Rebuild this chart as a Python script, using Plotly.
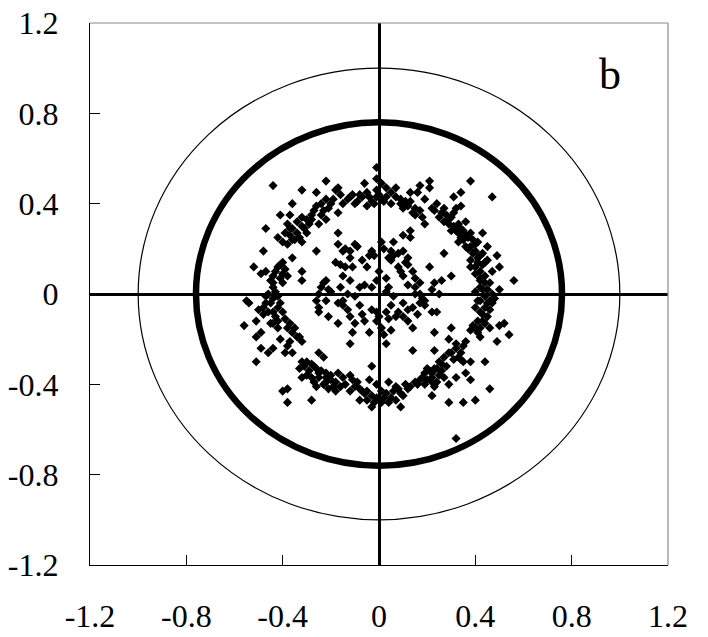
import plotly.graph_objects as go

# Scattered points
cloud_x = [
    -0.44, -0.32, -0.26, -0.22, -0.36, -0.41, -0.37, -0.32, -0.26, -0.22, -0.21, -0.24, -0.28,
    -0.47, -0.42, -0.38, -0.36, -0.32, -0.30, -0.25, -0.37, -0.40, -0.38, -0.35, -0.32, -0.22,
    -0.48, -0.26, -0.36, -0.40, -0.42, -0.52, -0.49, -0.47, -0.44, -0.40, -0.32, -0.32, -0.44,
    -0.40, -0.44, -0.22, -0.24, -0.21, -0.47, -0.44, -0.42, -0.55, -0.26, -0.22,
    -0.01, -0.01, 0.01, -0.19, -0.17, -0.13, -0.11, -0.09, -0.07, -0.06, -0.05, -0.03, -0.01,
    -0.01, 0.01, 0.03, 0.03, 0.07, 0.07, 0.09, 0.11, 0.12, 0.14, 0.15, 0.16, 0.17, 0.19, 0.19,
    -0.17, -0.05, -0.17, 0.06, 0.13, -0.17, -0.15, -0.12, -0.09, -0.03, 0.01, -0.02, 0.05, 0.06,
    0.10, -0.07, -0.11, -0.14, -0.05, -0.16, -0.18, 0.05, 0.11, 0.12, 0.09, 0.10, 0.15, 0.03,
    -0.01, -0.03, -0.08, -0.16, -0.13, -0.10, 0.06, 0.15, 0.17, 0.19, -0.15, 0.03,
    0.21, 0.21, 0.38, 0.47, 0.31, 0.34, 0.24, 0.22, 0.27, 0.32, 0.34, 0.28, 0.25, 0.30, 0.29,
    0.33, 0.36, 0.32, 0.34, 0.38, 0.34, 0.37, 0.43, 0.41, 0.33, 0.45, 0.37, 0.40, 0.42, 0.49,
    0.27, 0.38, 0.44, 0.41, 0.50, 0.21, 0.38, 0.40, 0.30, 0.42, 0.44, 0.56, 0.23, 0.26, 0.42,
    0.45, 0.40, 0.50, 0.25, 0.22, 0.46, 0.41,
    -0.54, -0.50, -0.47, -0.45, -0.44, -0.42, -0.40, -0.51, -0.48, -0.44, -0.42, -0.56, -0.49,
    -0.51, -0.38, -0.36, -0.33, -0.41, -0.49, -0.46, -0.44, -0.38, -0.36, -0.39, -0.25, -0.25,
    -0.21, -0.51, -0.25, -0.23, -0.32, -0.31, -0.29, -0.27, -0.25, -0.32, -0.28, -0.25, -0.22,
    -0.20, -0.22, -0.21, -0.26, -0.38, -0.40, -0.28, -0.38,
    -0.17, -0.13, -0.08, -0.03, -0.01, 0.03, 0.05, 0.10, 0.12, 0.17, 0.19, -0.17, -0.10, -0.11,
    -0.06, -0.04, -0.01, 0.01, 0.02, 0.05, 0.07, 0.12, 0.14, 0.03, -0.12, 0.14, -0.03, -0.17,
    -0.15, -0.11, -0.16, -0.18, -0.12, -0.04, -0.05, -0.07, -0.01, 0.01, 0.04, 0.02, 0.05, 0.08,
    0.10, 0.12, 0.15, 0.17, 0.19, -0.08, -0.02, 0.01, 0.09, -0.03, 0.07,
    0.22, 0.24, 0.40, 0.42, 0.45, 0.47, 0.43, 0.40, 0.41, 0.38, 0.46, 0.50, 0.52, 0.54, 0.49,
    0.42, 0.36, 0.35, 0.30, 0.23, 0.23, 0.32, 0.29, 0.34, 0.33, 0.38, 0.44, 0.26, 0.24, 0.22,
    0.25, 0.32, 0.36, 0.38, 0.22, 0.29, 0.23, 0.46, 0.22, 0.29, 0.35, 0.40, 0.32,
    # denser parts of the bands
    -0.39, -0.37, -0.34, -0.33, -0.36, -0.31, -0.29, -0.34, -0.28, -0.30, -0.27, -0.24, -0.23, -0.20,
    -0.43, -0.41, -0.39, -0.45, -0.41, -0.38, -0.43, -0.46,
    -0.48, -0.46, -0.43, -0.41, -0.39, -0.37, -0.35, -0.42, -0.45, -0.34, -0.32, -0.37,
    -0.30, -0.28, -0.26, -0.24, -0.22, -0.30, -0.27, -0.23, -0.19, -0.20, -0.18, -0.33,
    -0.14, -0.10, -0.08, -0.06, -0.03, -0.01, 0.03, 0.06, 0.07, 0.09, 0.11, 0.13, 0.16, 0.18,
    0.20, 0.04, -0.05, -0.12, -0.09,
    -0.15, -0.12, -0.07, 0.00, 0.04, 0.08, 0.10, 0.14, 0.16, 0.18,
    -0.16, -0.15, -0.12, -0.10, -0.08, -0.04, -0.02, 0.00, 0.02, 0.05, 0.05, 0.09, 0.13, 0.10,
    0.15, 0.17, 0.18, -0.18, 0.13,
    -0.14, -0.10, 0.02, 0.04, 0.08, 0.12, 0.08, -0.12, 0.14, 0.17, 0.15, 0.12, -0.12, -0.15,
    -0.06, 0.04, 0.00, -0.04, 0.10, 0.13,
    0.27, 0.29, 0.31, 0.30, 0.33, 0.35, 0.35, 0.36, 0.39, 0.38, 0.40, 0.39, 0.41, 0.43, 0.40,
    0.42, 0.43, 0.42, 0.44, 0.43, 0.46, 0.44, 0.47, 0.31, 0.26, 0.23, 0.36, 0.45, 0.47,
    0.42, 0.44, 0.43, 0.45, 0.41, 0.44, 0.42, 0.39, 0.46, 0.48,
    0.25, 0.27, 0.23, 0.26, 0.28, 0.22, 0.24, 0.27, 0.30, 0.31, 0.34, 0.35, 0.32, 0.29, 0.20,
    0.21, 0.19,
    -0.23, -0.20, -0.25,
]
cloud_y = [
    0.48, 0.46, 0.45, 0.50, 0.40, 0.35, 0.35, 0.34, 0.39, 0.42, 0.38, 0.35, 0.33,
    0.29, 0.25, 0.31, 0.29, 0.30, 0.27, 0.31, 0.26, 0.23, 0.22, 0.24, 0.23, 0.33,
    0.19, 0.19, 0.16, 0.14, 0.12, 0.12, 0.09, 0.10, 0.08, 0.09, 0.10, 0.06, 0.05,
    0.05, 0.03, 0.06, 0.03, 0.02, -0.01, -0.02, -0.01, -0.03, -0.03, -0.03,
    0.56, 0.51, 0.49, 0.42, 0.47, 0.42, 0.44, 0.41, 0.43, 0.49, 0.45, 0.41, 0.43,
    0.46, 0.42, 0.47, 0.43, 0.47, 0.43, 0.40, 0.41, 0.39, 0.36, 0.35, 0.45, 0.48, 0.42, 0.31,
    0.36, 0.39, 0.27, 0.23, 0.25, 0.22, 0.19, 0.19, 0.21, 0.19, 0.23, 0.17, 0.19, 0.17,
    0.19, 0.15, 0.12, 0.12, 0.12, 0.13, 0.14, 0.15, 0.14, 0.13, 0.10, 0.08, 0.07, 0.07,
    0.06, 0.03, 0.03, 0.03, 0.00, -0.01, -0.01, 0.03, 0.00, -0.03, -0.03, 0.01,
    0.50, 0.47, 0.50, 0.43, 0.43, 0.45, 0.40, 0.38, 0.38, 0.38, 0.39, 0.35, 0.34, 0.34, 0.31,
    0.31, 0.32, 0.28, 0.29, 0.27, 0.25, 0.25, 0.27, 0.23, 0.23, 0.21, 0.20, 0.19, 0.17, 0.17,
    0.18, 0.15, 0.14, 0.14, 0.12, 0.12, 0.12, 0.09, 0.08, 0.07, 0.05, 0.06, 0.05, 0.06, 0.03,
    0.02, 0.01, 0.02, 0.00, 0.02, -0.03, -0.03,
    -0.04, -0.07, -0.04, -0.04, -0.08, -0.06, -0.08, -0.12, -0.09, -0.13, -0.12, -0.14, -0.17,
    -0.19, -0.15, -0.17, -0.19, -0.20, -0.24, -0.26, -0.24, -0.23, -0.26, -0.26, -0.06, -0.08,
    -0.10, -0.30, -0.26, -0.28, -0.30, -0.32, -0.34, -0.32, -0.35, -0.37, -0.37, -0.37, -0.35,
    -0.38, -0.39, -0.42, -0.41, -0.42, -0.43, -0.47, -0.48,
    -0.04, -0.07, -0.05, -0.07, -0.08, -0.08, -0.05, -0.04, -0.07, -0.04, -0.05, -0.13, -0.13, -0.17,
    -0.12, -0.17, -0.12, -0.15, -0.18, -0.16, -0.10, -0.12, -0.15, -0.22, -0.22, -0.25, -0.32, -0.35,
    -0.37, -0.38, -0.41, -0.43, -0.43, -0.38, -0.43, -0.43, -0.40, -0.43, -0.39, -0.46, -0.46, -0.42,
    -0.45, -0.42, -0.39, -0.38, -0.35, -0.47, -0.48, -0.48, -0.50, -0.50, -0.47,
    -0.08, -0.08, -0.06, -0.08, -0.04, -0.04, -0.12, -0.15, -0.17, -0.16, -0.15, -0.14, -0.13, -0.18, -0.21,
    -0.19, -0.21, -0.23, -0.15, -0.17, -0.25, -0.24, -0.26, -0.26, -0.28, -0.30, -0.30, -0.31, -0.33, -0.35,
    -0.36, -0.37, -0.35, -0.38, -0.39, -0.40, -0.41, -0.42, -0.45, -0.48, -0.48, -0.47, -0.64,
    # denser parts of the bands
    0.27, 0.29, 0.27, 0.25, 0.24, 0.29, 0.31, 0.32, 0.35, 0.33, 0.37, 0.40, 0.37, 0.40,
    0.10, 0.07, 0.11, 0.06, 0.13, 0.08, 0.01, 0.00,
    -0.06, -0.08, -0.10, -0.04, -0.11, -0.13, -0.15, -0.15, -0.13, -0.19, -0.21, -0.21,
    -0.30, -0.31, -0.33, -0.34, -0.37, -0.36, -0.39, -0.40, -0.41, -0.36, -0.39, -0.33,
    -0.40, -0.41, -0.42, -0.44, -0.45, -0.46, -0.44, -0.43, -0.41, -0.44, -0.40, -0.41, -0.40, -0.37,
    -0.33, -0.48, -0.47, -0.36, -0.39,
    -0.05, -0.10, -0.09, -0.10, -0.11, -0.08, -0.10, -0.06, -0.09, -0.02,
    0.44, 0.40, 0.43, 0.40, 0.44, 0.43, 0.40, 0.44, 0.41, 0.40, 0.45, 0.42, 0.41, 0.38,
    0.38, 0.37, 0.34, 0.46, 0.45,
    0.20, 0.22, 0.20, 0.16, 0.18, 0.16, 0.12, 0.16, 0.10, 0.05, 0.00, 0.04, 0.06, 0.08,
    0.04, 0.03, 0.10, 0.17, 0.26, 0.28,
    0.32, 0.33, 0.30, 0.28, 0.27, 0.28, 0.24, 0.26, 0.24, 0.21, 0.22, 0.18, 0.16, 0.18, 0.12,
    0.10, 0.13, 0.06, 0.08, 0.02, 0.05, -0.01, 0.00, 0.36, 0.36, 0.37, 0.21, 0.15, 0.10,
    -0.03, -0.06, -0.09, -0.10, -0.12, -0.13, -0.15, -0.14, -0.07, -0.02,
    -0.30, -0.28, -0.33, -0.34, -0.32, -0.37, -0.39, -0.37, -0.26, -0.29, -0.29, -0.30, -0.22, -0.20, -0.38,
    -0.34, -0.40,
    0.05, 0.01, 0.00,
]

ring_radius = 0.76
unit_radius = 1.0

tick_vals = [-1.2, -0.8, -0.4, 0, 0.4, 0.8, 1.2]
tick_text = ["-1.2", "-0.8", "-0.4", "0", "0.4", "0.8", "1.2"]
panel_label = "b"

FONT = "Liberation Serif"

fig = go.Figure()
fig.add_trace(go.Scatter(
    x=cloud_x, y=cloud_y, mode="markers",
    marker=dict(symbol="diamond", size=7, color="black", line=dict(width=0)),
    showlegend=False, hoverinfo="skip",
))

shapes = [
    dict(type="circle", xref="x", yref="y", x0=-unit_radius, x1=unit_radius,
         y0=-unit_radius, y1=unit_radius, line=dict(color="black", width=1.2), layer="below"),
    dict(type="circle", xref="x", yref="y", x0=-ring_radius, x1=ring_radius,
         y0=-ring_radius, y1=ring_radius, line=dict(color="black", width=6.5), layer="below"),
    dict(type="line", xref="paper", yref="paper", x0=0, x1=1, y0=1, y1=1,
         line=dict(color="#8a8a8a", width=1.2)),
    dict(type="line", xref="paper", yref="paper", x0=1, x1=1, y0=0, y1=1,
         line=dict(color="#8a8a8a", width=1.2)),
]

axis_common = dict(
    range=[-1.2, 1.2], tickvals=tick_vals, ticktext=tick_text,
    ticks="inside", ticklen=10, tickwidth=1.2, tickcolor="black",
    showgrid=False, zeroline=True, zerolinecolor="black", zerolinewidth=2.5,
    showline=True, linecolor="black", linewidth=1.3, mirror=False,
    tickfont=dict(family=FONT, size=32, color="black"),
    fixedrange=True, automargin=False, ticklabeloverflow="allow",
)

fig.update_layout(
    width=708, height=637,
    margin=dict(l=90, r=40, t=23, b=72, autoexpand=False),
    paper_bgcolor="white", plot_bgcolor="white",
    font=dict(family=FONT, color="black"),
    xaxis=dict(**axis_common, ticklabelstandoff=22),
    yaxis=dict(**axis_common, ticklabelstandoff=24),
    shapes=shapes,
    annotations=[dict(x=0.96, y=0.97, xref="x", yref="y", text=panel_label,
                      showarrow=False, font=dict(family=FONT, size=44, color="black"),
                      xanchor="center", yanchor="middle")],
)

# remove the browser's default 8px page margin so the figure fills the window
fig.write_html("out.html", config={"displayModeBar": False},
               post_script="document.body.style.margin='0px';")
